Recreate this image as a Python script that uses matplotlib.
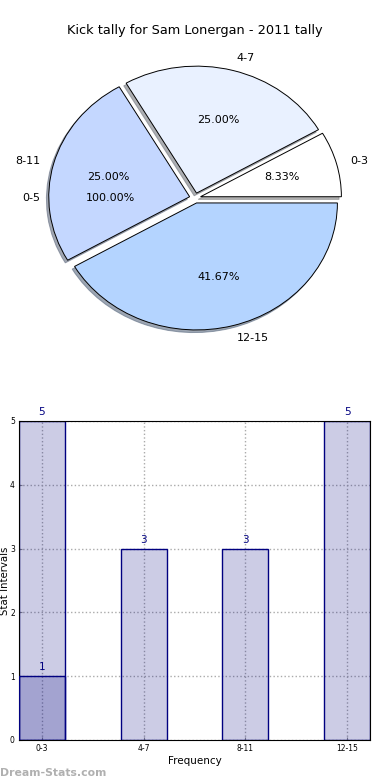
import matplotlib
matplotlib.use('Agg')
import matplotlib.pyplot as plt

# pie data
pie_labels = ['0-3', '4-7', '8-11', '12-15']
pie_values = [1, 3, 3, 5]
pie_colors = ['#ffffff', '#e9f1ff', '#c4d7ff', '#b4d4ff']
extra_label = ['0-5']
extra_value = [1]

# bar data
bar_labels = ['0-3', '4-7', '8-11', '12-15']
bar_values = [5, 3, 3, 5]
extra_bar_values = [1]

fig = plt.figure(figsize=(3.9, 7.8), dpi=100)
fig.text(0.5, 0.961, 'Kick tally for Sam Lonergan - 2011 tally',
         ha='center', va='center', fontsize=9.3)

# pie chart
ax1 = fig.add_axes([0.0487, 0.5426, 0.903, 0.407])
ax1.pie(extra_value, labels=extra_label, autopct='%.2f%%', startangle=0,
        wedgeprops=dict(facecolor='none', linewidth=0),
        textprops=dict(fontsize=8))
ax1.pie(pie_values, labels=pie_labels, colors=pie_colors, explode=[0.04] * 4,
        autopct='%.2f%%', startangle=0,
        shadow=dict(ox=-0.012, oy=-0.015, shade=0.5, alpha=0.6),
        wedgeprops=dict(edgecolor='black', linewidth=0.7),
        textprops=dict(fontsize=8))
ax1.set_aspect('auto')
ax1.set_xlim(-1.25, 1.25)
ax1.set_ylim(-1.25, 1.25)

# bar chart
ax2 = fig.add_axes([0.0487, 0.0513, 0.9, 0.409])
x = range(len(bar_labels))
bw = 0.45
ax2.bar(x, bar_values, width=bw, facecolor=(0, 0, 0.5, 0.2),
        edgecolor='navy', linewidth=1, zorder=2)
ax2.bar(range(len(extra_bar_values)), extra_bar_values, width=bw,
        facecolor=(0, 0, 0.5, 0.2), edgecolor='navy', linewidth=1, zorder=3)
for i, v in enumerate(bar_values):
    ax2.text(i, v + 0.06, str(v), ha='center', va='bottom', color='navy', fontsize=7.5)
for i, v in enumerate(extra_bar_values):
    ax2.text(i, v + 0.06, str(v), ha='center', va='bottom', color='navy', fontsize=7.5)

ax2.set_xlim(-bw / 2, len(bar_labels) - 1 + bw / 2)
ax2.set_ylim(0, 5)
ax2.set_xticks(list(x))
ax2.set_xticklabels(bar_labels)
ax2.set_yticks(range(6))
ax2.tick_params(labelsize=5.5, length=2, direction='in', colors='#888888',
                labelcolor='black', pad=3)
ax2.grid(True, linestyle=':', color='#aaaaaa', linewidth=1, zorder=0)
ax2.set_axisbelow(True)
ax2.set_xlabel('Frequency', fontsize=7.5, labelpad=2)
ax2.set_ylabel('Stat Intervals', fontsize=7.3)
ax2.yaxis.set_label_coords(-0.026, 0.5)

fig.text(0.0, 0.003, 'Dream-Stats.com', ha='left', va='bottom',
         fontsize=7.8, color='#b0b0b0', fontweight='bold')

fig.savefig('out.png', dpi=100)
